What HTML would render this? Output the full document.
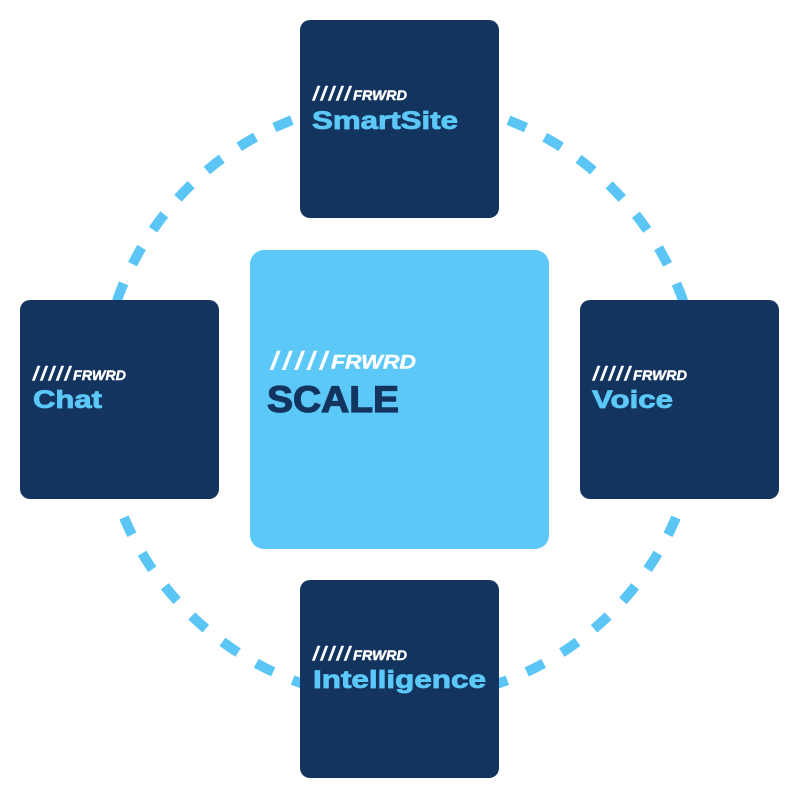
<!DOCTYPE html>
<html>
<head>
<meta charset="utf-8">
<style>
  html, body { margin: 0; padding: 0; background: #ffffff; }
  svg { display: block; }
  .sl { font-family: "Liberation Sans", sans-serif; font-weight: bold; font-style: italic; fill: #ffffff; stroke: #ffffff; stroke-width: 0.4; }
  .ss { font-family: "Liberation Sans", sans-serif; font-weight: bold; font-style: italic; fill: #ffffff; stroke: #ffffff; stroke-width: 0.6; }
  .lb { font-family: "Liberation Sans", sans-serif; font-weight: bold; fill: #5bc8f8; stroke: #5bc8f8; stroke-width: 0.8; }
</style>
</head>
<body>
<svg width="800" height="800" viewBox="0 0 800 800" xmlns="http://www.w3.org/2000/svg">
  <rect x="0" y="0" width="800" height="800" fill="#ffffff"/>
  <circle cx="400" cy="400" r="300" fill="none" stroke="#5bc6f6" stroke-width="10" stroke-dasharray="19 21.106" stroke-dashoffset="-0.53"/>

  <!-- Top: SmartSite -->
  <rect x="300" y="20" width="199" height="198" rx="10" fill="#143460"/>
  <text class="ss" x="313" y="100" font-size="19" textLength="37" lengthAdjust="spacing">/////</text>
  <text class="sl" x="353" y="100" font-size="14" textLength="54" lengthAdjust="spacingAndGlyphs">FRWRD</text>
  <text class="lb" x="312" y="129" font-size="25" textLength="146" lengthAdjust="spacingAndGlyphs">SmartSite</text>

  <!-- Left: Chat -->
  <rect x="20" y="300" width="199" height="199" rx="10" fill="#143460"/>
  <text class="ss" x="33" y="380" font-size="19" textLength="37" lengthAdjust="spacing">/////</text>
  <text class="sl" x="73" y="380" font-size="14" textLength="53" lengthAdjust="spacingAndGlyphs">FRWRD</text>
  <text class="lb" x="33" y="408" font-size="25" textLength="69" lengthAdjust="spacingAndGlyphs">Chat</text>

  <!-- Right: Voice -->
  <rect x="580" y="300" width="199" height="199" rx="10" fill="#143460"/>
  <text class="ss" x="593" y="380" font-size="19" textLength="37" lengthAdjust="spacing">/////</text>
  <text class="sl" x="633" y="380" font-size="14" textLength="54" lengthAdjust="spacingAndGlyphs">FRWRD</text>
  <text class="lb" x="592" y="408" font-size="25" textLength="81" lengthAdjust="spacingAndGlyphs">Voice</text>

  <!-- Bottom: Intelligence -->
  <rect x="300" y="580" width="199" height="198" rx="10" fill="#143460"/>
  <text class="ss" x="313" y="660" font-size="19" textLength="37" lengthAdjust="spacing">/////</text>
  <text class="sl" x="353" y="660" font-size="14" textLength="54" lengthAdjust="spacingAndGlyphs">FRWRD</text>
  <text class="lb" x="313" y="688" font-size="25" textLength="173" lengthAdjust="spacingAndGlyphs">Intelligence</text>

  <!-- Center: SCALE -->
  <rect x="250" y="250" width="299" height="299" rx="14" fill="#5bc8f8"/>
  <text class="ss" x="271" y="369" font-size="25" textLength="56" lengthAdjust="spacing">/////</text>
  <text class="sl" x="331" y="368.5" font-size="19" textLength="85" lengthAdjust="spacingAndGlyphs">FRWRD</text>
  <text x="267" y="412" font-family="Liberation Sans, sans-serif" font-weight="bold" font-size="37" fill="#143460" stroke="#143460" stroke-width="1.2" textLength="132" lengthAdjust="spacingAndGlyphs">SCALE</text>
</svg>
</body>
</html>
